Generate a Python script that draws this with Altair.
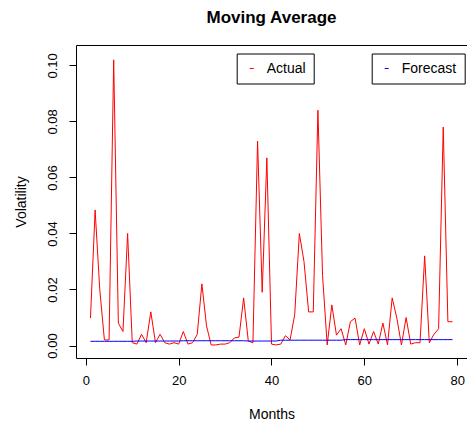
import altair as alt
import pandas as pd

months = list(range(1, 80))
actual = [
    0.0098, 0.0484, 0.020, 0.002, 0.002, 0.102, 0.008, 0.005, 0.040, 0.001,
    0.0005, 0.004, 0.001, 0.012, 0.001, 0.004, 0.001, 0.0005, 0.001, 0.0005,
    0.005, 0.0005, 0.001, 0.004, 0.022, 0.007, 0.0002, 0.0002, 0.0005, 0.0005,
    0.001, 0.0027, 0.003, 0.017, 0.0016, 0.001, 0.073, 0.019, 0.067, 0.0005,
    0.0002, 0.0005, 0.0035, 0.002, 0.011, 0.040, 0.030, 0.012, 0.012, 0.084,
    0.025, 0.0002, 0.0145, 0.0037, 0.006, 0.0002, 0.0085, 0.0098, 0.0002, 0.006,
    0.0005, 0.005, 0.0005, 0.008, 0.0002, 0.017, 0.0098, 0.0002, 0.010, 0.0005,
    0.001, 0.001, 0.032, 0.001, 0.004, 0.006, 0.078, 0.0085, 0.0085,
]
forecast = [
    0.0015, 0.0015, 0.0015, 0.0015, 0.0015, 0.0015, 0.0015, 0.0015, 0.0015, 0.0015,
    0.0016, 0.0016, 0.0016, 0.0016, 0.0016, 0.0016, 0.0016, 0.0016, 0.0016, 0.0016,
    0.0017, 0.0017, 0.0017, 0.0017, 0.0017, 0.0017, 0.0017, 0.0017, 0.0017, 0.0017,
    0.0017, 0.0017, 0.0017, 0.0017, 0.0016, 0.0016, 0.0016, 0.0016, 0.0016, 0.0016,
    0.0016, 0.0019, 0.0019, 0.0019, 0.0019, 0.0019, 0.0019, 0.0019, 0.0019, 0.0019,
    0.0019, 0.0019, 0.0019, 0.0019, 0.0019, 0.0021, 0.0021, 0.0021, 0.0021, 0.0021,
    0.0021, 0.0021, 0.0021, 0.0021, 0.0021, 0.0021, 0.0021, 0.0021, 0.0021, 0.0021,
    0.0021, 0.0021, 0.0021, 0.0021, 0.0021, 0.0021, 0.0021, 0.0021, 0.0021,
]
x_ticks = [0, 20, 40, 60, 80]
y_ticks = [0.0, 0.02, 0.04, 0.06, 0.08, 0.10]

df_a = pd.DataFrame({"Month": months, "Volatility": actual, "series": "Actual"})
df_f = pd.DataFrame({"Month": months, "Volatility": forecast, "series": "Forecast"})

FONT = "Liberation Sans"

x_enc = alt.X(
    "Month:Q",
    scale=alt.Scale(domain=[-2.12, 82.12], nice=False, zero=False),
    axis=alt.Axis(
        values=x_ticks, title="Months", domain=False, grid=False,
        tickSize=7, tickColor="black", labelPadding=9, titlePadding=20,
        labelFontSize=13, titleFontSize=14, titleFontWeight="normal",
        labelColor="black", titleColor="black", labelFont=FONT, titleFont=FONT,
    ),
)
y_enc = alt.Y(
    "Volatility:Q",
    scale=alt.Scale(domain=[-0.00446, 0.1073], nice=False, zero=False),
    axis=alt.Axis(
        values=y_ticks, format=".2f", title="Volatility", domain=False, grid=False,
        tickSize=7, tickColor="black", labelAngle=270, labelAlign="center",
        labelBaseline="bottom", labelPadding=10, titlePadding=18,
        labelFontSize=13, titleFontSize=14, titleFontWeight="normal",
        labelColor="black", titleColor="black", labelFont=FONT, titleFont=FONT,
    ),
)


def legend(x):
    return alt.Legend(
        orient="none", legendX=x, legendY=8.5, title=None,
        strokeColor="black", fillColor="white", padding=8,
        symbolType="stroke", symbolSize=16, symbolStrokeWidth=1,
        labelFontSize=14, labelFont=FONT, labelColor="black", labelOffset=8,
    )


line_a = alt.Chart(df_a).mark_line(strokeWidth=1).encode(
    x=x_enc, y=y_enc,
    color=alt.Color("series:N", scale=alt.Scale(domain=["Actual"], range=["#ff0000"]),
                    legend=legend(160.7)),
)
line_f = alt.Chart(df_f).mark_line(strokeWidth=1).encode(
    x=x_enc, y=y_enc,
    color=alt.Color("series:N", scale=alt.Scale(domain=["Forecast"], range=["#0000ff"]),
                    legend=legend(295.7)),
)

chart = (
    alt.layer(line_a, line_f)
    .resolve_scale(color="independent")
    .properties(
        width=391, height=313,
        autosize=alt.AutoSizeParams(type="none"),
        padding={"left": 76, "top": 45, "right": 0, "bottom": 65},
        background="white",
        title=alt.TitleParams(
            "Moving Average", fontSize=17, fontWeight="bold", font=FONT,
            anchor="middle", baseline="alphabetic", offset=5, color="black",
        ),
    )
    .configure_view(stroke="black", strokeWidth=1)
)

chart.save("out.html", embed_options={"renderer": "svg", "actions": False})
